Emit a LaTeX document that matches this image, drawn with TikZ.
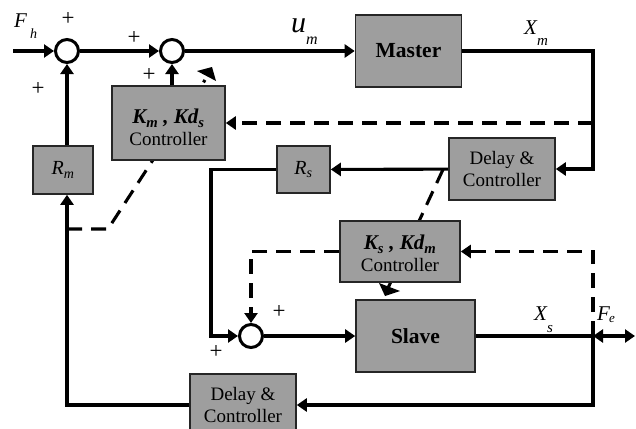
\documentclass[tikz,border=0pt]{standalone}
\usepackage{fontspec}
\setmainfont{Liberation Serif}
\usetikzlibrary{arrows.meta,backgrounds}
\definecolor{boxgray}{RGB}{158,158,158}
\begin{document}
\begin{tikzpicture}[x=1pt,y=-1pt,
  wire/.style={line width=3.1pt},
  sig/.style={wire,-{Triangle[length=10pt,width=13pt]}},
  dsh/.style={line width=3.1pt,dash pattern=on 15pt off 9pt},
  dsig/.style={dsh,-{Triangle[length=10pt,width=13pt]}},
  block/.style={draw=black!85,line width=1.6pt,fill=boxgray,inner sep=0pt,align=center,
    font=\fontsize{19}{22}\selectfont},
  bigblock/.style={block,font=\fontsize{21.5}{24}\selectfont\bfseries},
  gainhead/.style={font=\fontsize{21}{21}\selectfont\bfseries\itshape},
  sumc/.style={circle,draw,line width=3pt,minimum size=23pt,inner sep=0pt},
  plus/.style={font=\fontsize{23}{23}\selectfont,inner sep=0pt},
  lbl/.style={anchor=base west,inner sep=0pt,font=\fontsize{21}{21}\selectfont\itshape},
]
\useasboundingbox (0,0) rectangle (636,428);

% summing junctions
\node[sumc] (s1) at (67,51) {};
\node[sumc] (s2) at (172,51) {};
\node[sumc] (s3) at (251,336) {};

% blocks
\node[bigblock,minimum width=106pt,minimum height=72pt] (master) at (408.5,51) {Master};
\node[bigblock,minimum width=119pt,minimum height=72pt] (slave) at (415.5,336) {Slave};
\node[block,minimum width=106pt,minimum height=62pt] (dly1) at (502,169) {Delay \&\\Controller};
\node[block,minimum width=106pt,minimum height=62pt] (dly2) at (243,405) {Delay \&\\Controller};
\node[block,minimum width=113pt,minimum height=74pt] (kmc) at (168.5,123)
  {\rule{0pt}{24pt}{\fontsize{21}{22}\selectfont\bfseries\itshape K\textsubscript{m} , Kd\textsubscript{s}}\\Controller};
\node[block,minimum width=120pt,minimum height=61pt] (ksc) at (400,251.5)
  {\rule{0pt}{19pt}{\fontsize{21}{22}\selectfont\bfseries\itshape K\textsubscript{s} , Kd\textsubscript{m}}\\Controller};
\node[block,minimum width=60pt,minimum height=48pt,font=\fontsize{20}{20}\selectfont] (rm) at (63,170)
  {\textit{R\textsubscript{m}}};
\node[block,minimum width=53pt,minimum height=47pt,font=\fontsize{20}{20}\selectfont] (rs) at (303.5,169.5)
  {\textit{R\textsubscript{s}}};

% branch points and free ends
\coordinate (fin) at (13,51);
\coordinate (xm) at (593,51);
\coordinate (xmd) at (593,123);
\coordinate (xs) at (593,336);
\coordinate (fe) at (635,336);
\coordinate (rsturn) at (211,169.5);
\coordinate (kmtap) at (67,229);
\coordinate (kmbend) at (108,229);
\coordinate (kmend) at (205,80);
\coordinate (kstap) at (443,169.5);
\coordinate (ksend) at (388,288);

% signal paths
\draw[sig] (fin) -- (s1);
\draw[sig] (s1) -- (s2);
\draw[sig] (s2) -- (master);
\draw[sig] (master) -- (xm) |- (dly1);
\draw[sig] (dly1) -- (rs);
\draw[sig] (rs.west) -- (rsturn) |- (s3);
\draw[sig] (s3) -- (slave);
\draw[wire] (slave) -- (xs);
\draw[sig] (xs) |- (dly2);
\draw[sig] (dly2.west) -| (rm.south -| s1);
\draw[sig] (rm.north -| s1) -- (s1.south);
\draw[sig] (kmc.north -| s2) -- (s2.south);
\draw[wire,{Triangle[length=10pt,width=13pt]}-{Triangle[length=10pt,width=13pt]}] (xs) -- (fe);

% controller feedback (dashed)
\draw[dsig] (xmd) -- (kmc.east);
\draw[dsig] (xs) |- (ksc.east);
\draw[dsig] (ksc.west) -| (s3.north);

% variable-gain arrows through the controllers
\begin{scope}[on background layer]
  \draw[dsh] (kmtap) -- (kmbend) -- (kmend);
  \draw[dsh] (kstap) -- (ksend);
\end{scope}
\fill (197,71) -- (212,67) -- (216,81) -- cycle;
\fill (379,283) -- (400,291) -- (385,296) -- cycle;

% signs
\node[plus] at (68,19) {+};
\node[plus] at (38,89) {+};
\node[plus] at (134,38) {+};
\node[plus] at (149,75) {+};
\node[plus] at (279,312) {+};
\node[plus] at (216,352) {+};

% signal labels
\node[lbl] at (14,28) {F\kern3pt\raisebox{-11pt}{\fontsize{14}{14}\selectfont h}};
\node[lbl,font=\fontsize{30}{30}\selectfont\itshape] at (291,33) {u\raisebox{-12pt}{\fontsize{16}{16}\selectfont m}};
\node[lbl] at (524,35) {X\kern0pt\raisebox{-10pt}{\fontsize{15}{15}\selectfont m}};
\node[lbl] at (534,320) {X\kern0pt\raisebox{-12pt}{\fontsize{15}{15}\selectfont s}};
\node[lbl] at (597,320) {F\kern-1pt\raisebox{-2pt}{\fontsize{13}{13}\selectfont e}};
\end{tikzpicture}
\end{document}
